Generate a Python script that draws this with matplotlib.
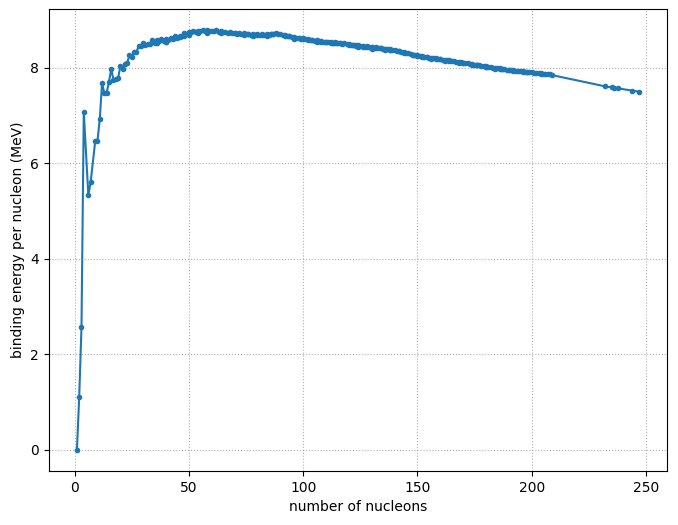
import matplotlib
matplotlib.use('Agg')
import matplotlib.pyplot as plt

# stable / long-lived nuclides: mass number and binding energy per nucleon (MeV)
mass_number = [
    1, 2, 3, 4, 6, 7, 9, 10, 11, 12, 13, 14, 15, 16, 17, 18, 19, 20, 21, 22,
    23, 24, 25, 26, 27, 28, 29, 30, 31, 32, 33, 34, 35, 36, 36, 37, 38, 39,
    40, 40, 40, 41, 42, 43, 44, 45, 46, 46, 47, 48, 48, 49, 50, 50, 50, 51,
    52, 53, 54, 54, 55, 56, 57, 58, 58, 59, 60, 61, 62, 63, 64, 64, 65, 66,
    67, 68, 69, 70, 70, 71, 72, 73, 74, 74, 75, 76, 76, 77, 78, 78, 79, 80,
    80, 81, 82, 82, 83, 84, 84, 85, 86, 86, 87, 87, 88, 89, 90, 91, 92, 92,
    93, 94, 94, 95, 96, 96, 96, 97, 98, 98, 99, 100, 100, 101, 102, 102,
    103, 104, 104, 105, 106, 106, 107, 108, 108, 109, 110, 110, 111, 112,
    112, 113, 113, 114, 114, 115, 115, 116, 116, 117, 118, 119, 120, 120,
    121, 122, 122, 123, 123, 124, 124, 124, 125, 126, 126, 127, 128, 128,
    129, 130, 130, 130, 131, 132, 132, 133, 134, 134, 135, 136, 136, 136,
    137, 138, 138, 138, 139, 140, 141, 142, 142, 143, 144, 144, 145, 146,
    147, 148, 148, 149, 150, 150, 151, 152, 152, 153, 154, 154, 155, 156,
    156, 157, 158, 158, 159, 160, 160, 161, 162, 162, 163, 164, 164, 165,
    166, 167, 168, 168, 169, 170, 170, 171, 172, 173, 174, 174, 175, 176,
    176, 176, 177, 178, 179, 180, 180, 180, 181, 182, 183, 184, 184, 185,
    186, 186, 187, 187, 188, 189, 190, 190, 191, 192, 192, 193, 194, 195,
    196, 196, 197, 198, 198, 199, 200, 201, 202, 203, 204, 204, 205, 206,
    207, 208, 209, 232, 235, 236, 238, 244, 247,
]
binding_energy = [
    0.000, 1.112, 2.573, 7.074, 5.332, 5.606, 6.463, 6.475, 6.928, 7.680,
    7.470, 7.476, 7.699, 7.976, 7.751, 7.767, 7.779, 8.032, 7.972, 8.081,
    8.112, 8.261, 8.224, 8.334, 8.332, 8.448, 8.449, 8.521, 8.481, 8.493,
    8.498, 8.584, 8.520, 8.575, 8.520, 8.570, 8.614, 8.557, 8.595, 8.551,
    8.538, 8.576, 8.617, 8.601, 8.658, 8.619, 8.656, 8.669, 8.661, 8.723,
    8.666, 8.711, 8.756, 8.701, 8.696, 8.742, 8.776, 8.760, 8.778, 8.736,
    8.765, 8.790, 8.770, 8.792, 8.732, 8.768, 8.781, 8.765, 8.795, 8.752,
    8.777, 8.736, 8.757, 8.760, 8.734, 8.756, 8.725, 8.730, 8.722, 8.718,
    8.732, 8.705, 8.725, 8.688, 8.701, 8.705, 8.711, 8.695, 8.718, 8.661,
    8.688, 8.711, 8.693, 8.696, 8.693, 8.711, 8.696, 8.717, 8.677, 8.697,
    8.712, 8.708, 8.705, 8.711, 8.733, 8.714, 8.710, 8.693, 8.693, 8.658,
    8.664, 8.667, 8.662, 8.649, 8.635, 8.654, 8.609, 8.635, 8.635, 8.620,
    8.609, 8.605, 8.619, 8.601, 8.607, 8.580, 8.584, 8.587, 8.585, 8.571,
    8.580, 8.539, 8.554, 8.567, 8.550, 8.548, 8.547, 8.551, 8.537, 8.545,
    8.514, 8.527, 8.523, 8.532, 8.523, 8.517, 8.514, 8.512, 8.523, 8.510,
    8.517, 8.500, 8.505, 8.477, 8.482, 8.488, 8.478, 8.472, 8.466, 8.467,
    8.473, 8.438, 8.458, 8.463, 8.444, 8.446, 8.449, 8.443, 8.431, 8.430,
    8.438, 8.406, 8.424, 8.428, 8.409, 8.410, 8.414, 8.408, 8.398, 8.396,
    8.403, 8.374, 8.392, 8.394, 8.375, 8.377, 8.378, 8.376, 8.354, 8.347,
    8.346, 8.330, 8.327, 8.304, 8.309, 8.304, 8.281, 8.277, 8.280, 8.263,
    8.250, 8.262, 8.239, 8.244, 8.233, 8.229, 8.227, 8.225, 8.213, 8.215,
    8.192, 8.204, 8.202, 8.190, 8.189, 8.183, 8.184, 8.173, 8.174, 8.152,
    8.162, 8.159, 8.149, 8.147, 8.142, 8.132, 8.130, 8.112, 8.115, 8.112,
    8.106, 8.098, 8.097, 8.087, 8.084, 8.069, 8.069, 8.064, 8.059, 8.061,
    8.052, 8.049, 8.039, 8.035, 8.025, 8.026, 8.023, 8.018, 8.008, 8.005,
    7.973, 7.991, 7.989, 7.983, 7.974, 7.978, 7.974, 7.963, 7.963, 7.947,
    7.948, 7.949, 7.942, 7.938, 7.936, 7.927, 7.927, 7.914, 7.916, 7.914,
    7.912, 7.905, 7.906, 7.897, 7.897, 7.886, 7.886, 7.880, 7.878, 7.875,
    7.870, 7.868, 7.848, 7.615, 7.591, 7.586, 7.570, 7.525, 7.501,
]

fig, ax = plt.subplots(figsize=(6.78, 5.25), dpi=100)
ax.plot(mass_number, binding_energy, marker='.')
ax.set_xlabel('number of nucleons')
ax.set_ylabel('binding energy per nucleon (MeV)')
ax.grid(linestyle=':')
fig.subplots_adjust(left=0.072, right=0.984, bottom=0.103, top=0.983)
fig.savefig('out.png')
